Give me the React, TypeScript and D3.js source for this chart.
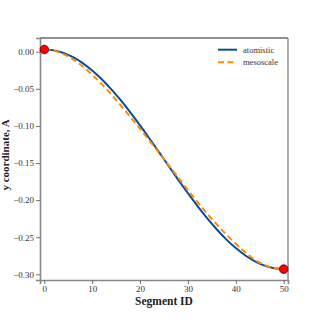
import { useEffect, useRef } from "react"
import * as d3 from "d3"

// segment ids and y coordinates
const segments = [0, 2, 4, 6, 8, 10, 12, 14, 16, 18, 20, 22, 24, 26, 28, 30, 32, 34, 36, 38, 40, 42, 44, 46, 48, 50]
const atomistic = [
  0.003, 0.0018, -0.0017, -0.0074, -0.0153, -0.0253, -0.0371, -0.0507, -0.0657, -0.082, -0.0993, -0.1173, -0.1357,
  -0.1543, -0.1727, -0.1907, -0.208, -0.2243, -0.2393, -0.2529, -0.2647, -0.2747, -0.2826, -0.2884, -0.2918, -0.293,
]
const mesoscale = [
  0.003, 0.0013, -0.0032, -0.0104, -0.0198, -0.0311, -0.0437, -0.0577, -0.0725, -0.088, -0.1041, -0.1203, -0.1367,
  -0.1533, -0.1699, -0.1865, -0.2027, -0.2181, -0.2326, -0.2463, -0.2589, -0.2705, -0.2804, -0.2876, -0.2916, -0.293,
]
const endpointIds = [0, 50]
const endpointY = [0.003, -0.293]
const xTicks = [0, 10, 20, 30, 40, 50]
const yTicks = [0, -0.05, -0.1, -0.15, -0.2, -0.25, -0.3]

const seriesNames = ["atomistic", "mesoscale"]
const seriesColors = ["#0c4a9c", "#ff8c00"]

export default function App() {
  const ref = useRef<SVGSVGElement>(null)

  useEffect(() => {
    if (!ref.current) return
    const svg = d3.select(ref.current)
    svg.selectAll("*").remove()

    const left = 40, right = 288, top = 38, bottom = 280
    const font = "'Liberation Serif', 'DejaVu Serif', serif"

    const x = d3.scaleLinear().domain([-0.9, 50.9]).range([left, right])
    const y = d3.scaleLinear().domain([-0.3077, 0.0185]).range([bottom, top])

    // spines
    svg.append("line").attr("x1", left).attr("x2", right).attr("y1", top).attr("y2", top)
      .attr("stroke", "#222").attr("stroke-width", 1)
    svg.append("line").attr("x1", right).attr("x2", right).attr("y1", top).attr("y2", bottom)
      .attr("stroke", "#888").attr("stroke-width", 1.4)

    const xAxis = svg.append("g").attr("transform", `translate(0,${bottom})`)
      .call(d3.axisBottom(x).tickValues(xTicks).tickSize(4).tickPadding(2).tickFormat(d3.format("d")))
    const yAxis = svg.append("g").attr("transform", `translate(${left},0)`)
      .call(d3.axisLeft(y).tickValues(yTicks).tickSize(4).tickPadding(2)
        .tickFormat((d) => d3.format(".2f")(d as number).replace("-", "\u2212")))

    for (const ax of [xAxis, yAxis]) {
      ax.attr("font-family", font).attr("font-size", 9)
      ax.select(".domain").attr("stroke", "#888").attr("stroke-width", 1.6)
      ax.selectAll(".tick line").attr("stroke", "#666").attr("stroke-width", 0.9)
      ax.selectAll(".tick text").attr("fill", "#333")
    }

    const line = d3.line<number>()
      .x((_, i) => x(segments[i]))
      .y((d) => y(d))
      .curve(d3.curveCatmullRom)

    svg.append("path").datum(atomistic).attr("d", line).attr("fill", "none")
      .attr("stroke", seriesColors[0]).attr("stroke-width", 2)
    svg.append("path").datum(mesoscale).attr("d", line).attr("fill", "none")
      .attr("stroke", seriesColors[1]).attr("stroke-width", 2).attr("stroke-dasharray", "6,3.5")

    svg.selectAll("circle.end").data(endpointIds).enter().append("circle")
      .attr("cx", (d) => x(d)).attr("cy", (_, i) => y(endpointY[i])).attr("r", 4.3)
      .attr("fill", "#ff0000").attr("stroke", "#400").attr("stroke-width", 0.8)

    // legend
    const legend = svg.append("g")
    seriesNames.forEach((name, i) => {
      const ly = 49.7 + i * 12.6
      legend.append("line").attr("x1", 218).attr("x2", 237).attr("y1", ly).attr("y2", ly)
        .attr("stroke", seriesColors[i]).attr("stroke-width", 2)
        .attr("stroke-dasharray", i === 1 ? "6,3.5" : null)
      legend.append("text").attr("x", 243).attr("y", ly + 3).text(name)
        .attr("fill", "#333").style("font-family", font).style("font-size", "8.5px")
    })

    svg.append("text").attr("x", 164).attr("y", 305).attr("text-anchor", "middle")
      .style("font-family", font).style("font-size", "11.5px").style("font-weight", "bold").attr("fill", "#222")
      .text("Segment ID")
    svg.append("text").attr("transform", `translate(8.5,155) rotate(-90)`)
      .attr("text-anchor", "middle").style("font-family", font).style("font-size", "11px")
      .style("font-weight", "bold").attr("fill", "#222").text("y coordinate, A")
  }, [])

  return (
    <svg ref={ref} width={320} height={320} style={{ position: "absolute", left: 0, top: 0, background: "#fff" }} />
  )
}
